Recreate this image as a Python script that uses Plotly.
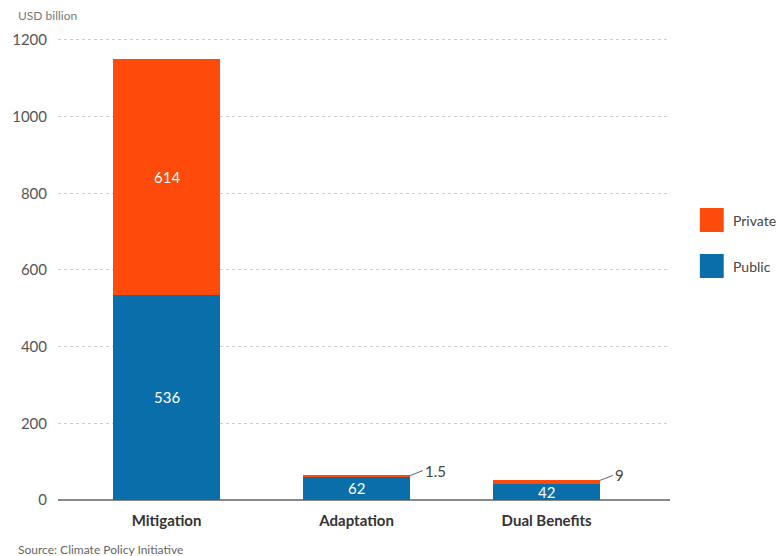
import plotly.graph_objects as go

categories = ["Mitigation", "Adaptation", "Dual Benefits"]
public = [536, 62, 42]
private = [614, 1.5, 9]
y_ticks = [0, 200, 400, 600, 800, 1000, 1200]

BLUE = "#0A6EAA"
ORANGE = "#FE4A0A"
FONT = "Lato"
BAR_W = 0.56

xs = list(range(len(categories)))

fig = go.Figure()
fig.add_trace(go.Bar(x=xs, y=public, name="Public", marker=dict(color=BLUE, line=dict(width=0)),
                     width=BAR_W, showlegend=False, hoverinfo="skip"))
fig.add_trace(go.Bar(x=xs, y=private, name="Private", marker=dict(color=ORANGE, line=dict(width=0)),
                     width=BAR_W, showlegend=False, hoverinfo="skip"))

annotations = []
for i, (pu, pr) in enumerate(zip(public, private)):
    annotations.append(dict(x=i, y=pu / 2, text=str(pu), showarrow=False,
                            font=dict(family=FONT, size=15, color="white"), xref="x", yref="y"))
    if pr > 100:
        annotations.append(dict(x=i, y=pu + pr / 2, text=str(pr), showarrow=False,
                                font=dict(family=FONT, size=15, color="white"), xref="x", yref="y"))
    else:
        annotations.append(dict(x=i + BAR_W / 2, y=pu + pr, text=f"{pr:g}", showarrow=True,
                                arrowhead=0, arrowwidth=1, arrowcolor="#666", ax=13, ay=-5,
                                xanchor="left", yanchor="middle", standoff=0, startstandoff=0,
                                font=dict(family=FONT, size=15, color="#444"), xref="x", yref="y",
                                borderpad=1))

W, H = 780, 556
L, R, T, B = 55, 110, 38, 56
pw, ph = W - L - R, H - T - B

def px_x(p):
    return (p - L) / pw

def px_y(p):
    return (H - B - p) / ph

annotations.append(dict(x=px_x(13), y=px_y(15), xref="paper", yref="paper", text="USD billion",
                        showarrow=False, xanchor="left", yanchor="middle",
                        font=dict(family=FONT, size=12, color="#777")))
annotations.append(dict(x=px_x(13), y=px_y(549), xref="paper", yref="paper",
                        text="Source: Climate Policy Initiative", showarrow=False,
                        xanchor="left", yanchor="middle", font=dict(family=FONT, size=12, color="#666")))

# legend (custom)
shapes = []
legend_items = [("Private", ORANGE, 220), ("Public", BLUE, 266)]
for name, col, cy in legend_items:
    shapes.append(dict(type="rect", xref="paper", yref="paper",
                       x0=px_x(700), x1=px_x(724), y0=px_y(cy + 12), y1=px_y(cy - 12),
                       fillcolor=col, line=dict(width=0)))
    annotations.append(dict(x=px_x(731), y=px_y(cy), xref="paper", yref="paper", text=name,
                            showarrow=False, xanchor="left", yanchor="middle",
                            font=dict(family=FONT, size=14, color="#444")))

fig.update_layout(
    width=W, height=H,
    margin=dict(l=L, r=R, t=T, b=B),
    barmode="stack",
    plot_bgcolor="white", paper_bgcolor="white",
    font=dict(family=FONT),
    annotations=annotations,
    shapes=shapes,
    bargap=0,
)
fig.update_xaxes(
    range=[-0.571, 2.649], tickvals=xs, ticktext=[f"<b>{c}</b>" for c in categories],
    tickfont=dict(family=FONT, size=15, color="#333"), showgrid=False, zeroline=False,
    showline=False, ticks="", ticklabelstandoff=10,
)
fig.update_yaxes(
    range=[0, 1205], tickvals=y_ticks, tickfont=dict(family=FONT, size=15, color="#555"),
    showgrid=True, gridcolor="#CFCFCF", griddash="3px,3px", gridwidth=1,
    zeroline=True, zerolinecolor="#888", zerolinewidth=2, showline=False, ticks="",
    ticklabelstandoff=10,
)

fig.write_html("out.html")
